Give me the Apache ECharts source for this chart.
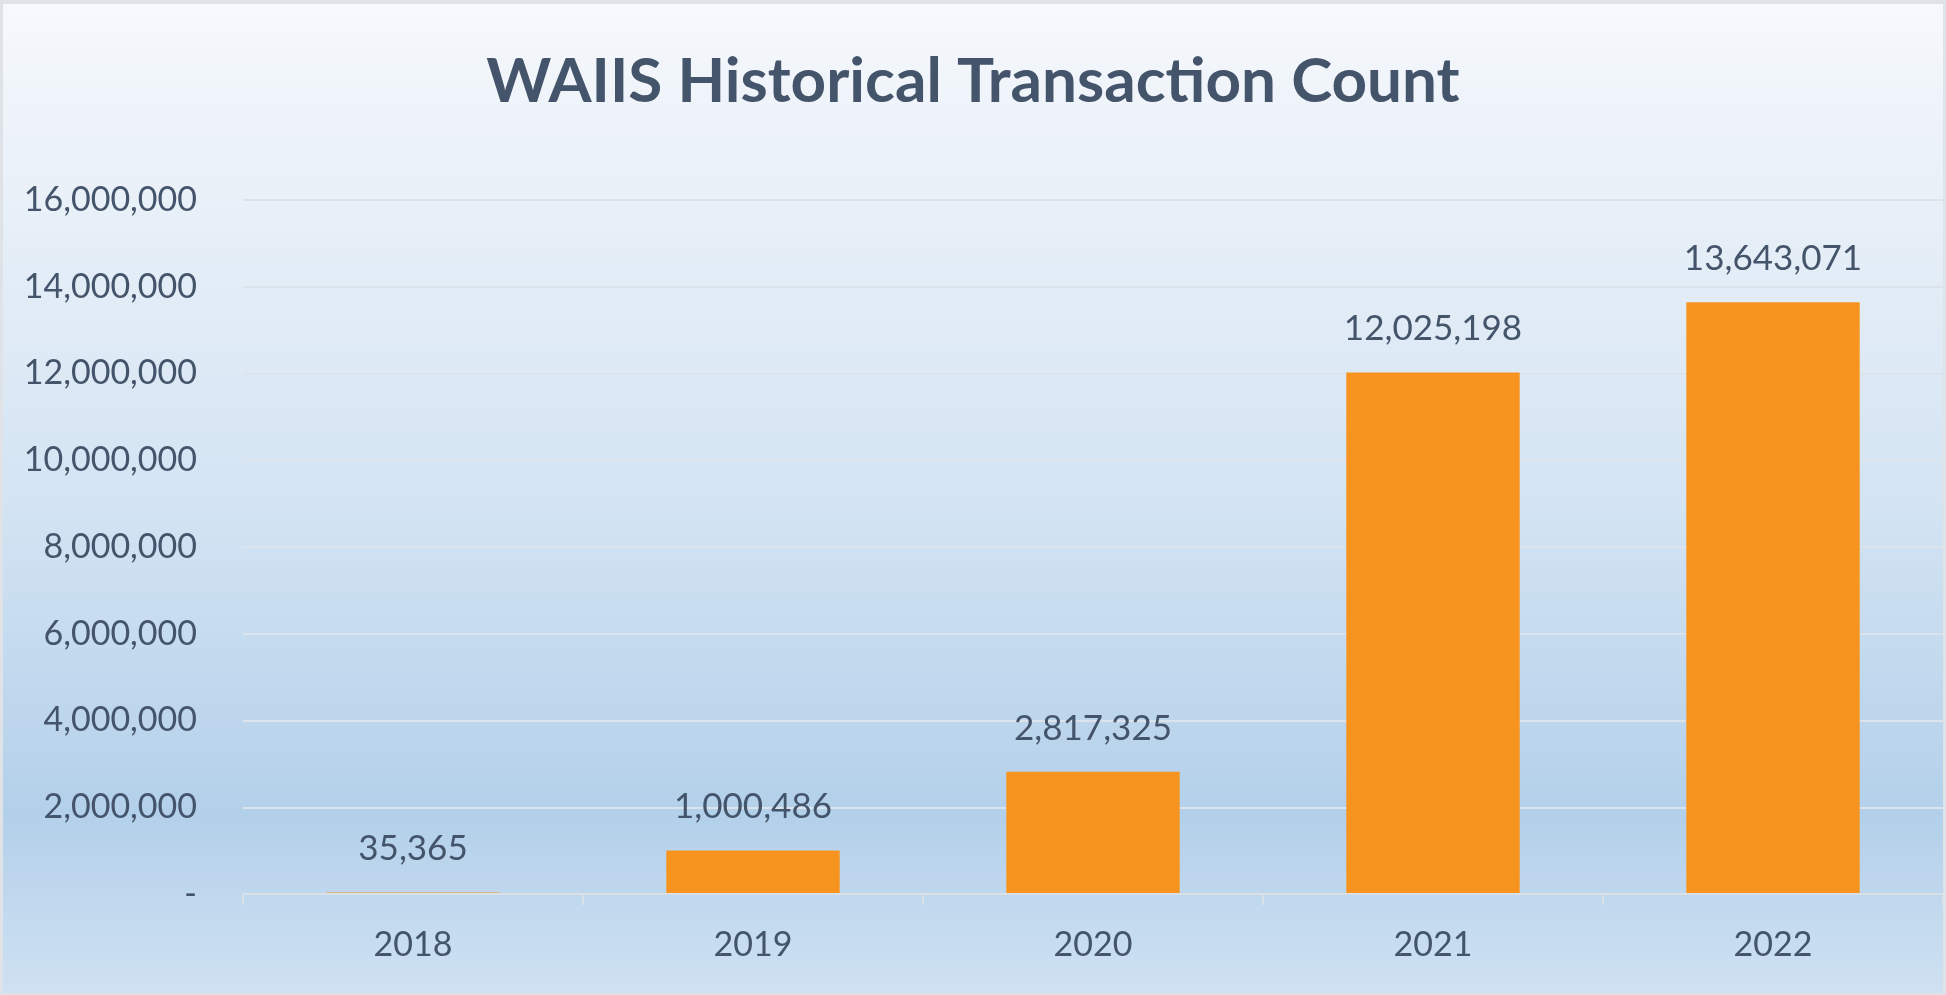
<!DOCTYPE html>
<html>
<head>
<meta charset="utf-8">
<title>WAIIS Historical Transaction Count</title>
<script src="https://cdn.jsdelivr.net/npm/echarts@6/dist/echarts.min.js"></script>
<style>
    html, body { margin: 0; padding: 0; width: 100%; height: 100%; background: #dfe3e8; overflow: hidden; }
    #main { position: absolute; left: 3px; top: 4px; width: 1940px; height: 989px; }
</style>
</head>
<body>
<div id="main"></div>
<script>
'use strict'

// 数据
var years = ['2018', '2019', '2020', '2021', '2022'];
var transactionCount = [35365, 1000486, 2817325, 12025198, 13643071];
var yTicks = [0, 2000000, 4000000, 6000000, 8000000, 10000000, 12000000, 14000000, 16000000];

var textColor = '#44546a';

function fmt(v) {
    if (v === 0) return '-';
    return v.toLocaleString('en-US');
}

var myChart = echarts.init(document.getElementById('main'));
myChart.setOption({
    backgroundColor: {
        type: 'linear', x: 0, y: 0, x2: 0, y2: 1,
        colorStops: [
            {offset: 0, color: '#f6f9fd'},
            {offset: 0.1, color: '#eff4fa'},
            {offset: 0.5, color: '#d4e4f3'},
            {offset: 0.82, color: '#b3d0ea'},
            {offset: 1, color: '#cfe1f2'}
        ]
    },
    title: {
        text: 'WAIIS Historical Transaction Count',
        left: 'center',
        top: 42,
        textStyle: {
            fontFamily: 'Lato',
            fontWeight: 'bold',
            fontSize: 62,
            color: textColor
        }
    },
    grid: {
        left: 240,
        right: 0,
        top: 196,
        bottom: 99,
        containLabel: false
    },
    xAxis: {
        type: 'category',
        data: years,
        z: 3,   // 轴线盖住 2018 那根很矮的柱子
        axisLine: {lineStyle: {color: '#dae0e7', width: 2}},
        axisTick: {show: true, length: 11, lineStyle: {color: '#dae0e7', width: 2}},
        axisLabel: {
            margin: 34,
            fontFamily: 'Lato',
            fontSize: 34,
            color: textColor
        }
    },
    yAxis: {
        type: 'value',
        min: yTicks[0],
        max: yTicks[yTicks.length - 1],
        interval: yTicks[1] - yTicks[0],
        axisLine: {show: false},
        axisTick: {show: false},
        splitLine: {lineStyle: {color: '#dde3ea', width: 2}},
        axisLabel: {
            margin: 46,
            fontFamily: 'Lato',
            fontSize: 34,
            color: textColor,
            formatter: fmt
        }
    },
    series: [{
        name: 'Transactions',
        type: 'bar',
        data: transactionCount,
        barCategoryGap: '49%',
        itemStyle: {color: '#f7941f'},
        label: {
            show: true,
            position: 'top',
            distance: 26,
            fontFamily: 'Lato',
            fontSize: 35,
            color: textColor,
            formatter: function (p) { return fmt(p.value); }
        }
    }]
});
</script>
</body>
</html>
